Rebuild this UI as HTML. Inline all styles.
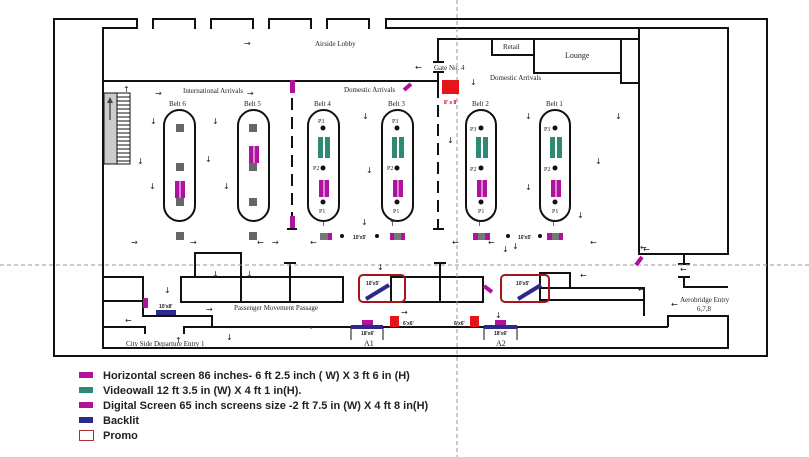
<!DOCTYPE html>
<html><head><meta charset="utf-8"><style>
html,body{margin:0;padding:0;background:#fff;}
svg{display:block;}
.w{stroke:#111;stroke-width:2;fill:none;}
.t{font-family:"Liberation Serif",serif;fill:#222;}
.lg{font-family:"Liberation Sans",sans-serif;font-weight:bold;font-size:11px;fill:#222;}
.ar{font-family:"DejaVu Sans",sans-serif;font-size:8px;fill:#222;}
</style></head><body>
<svg width="809" height="457" viewBox="0 0 809 457" xmlns="http://www.w3.org/2000/svg">
<!-- outer frame -->
<polyline class="w" points="137,29 137,19 54,19 54,356 767,356 767,19 386,19 386,29"/>
<g class="w">
<polyline points="153,29 153,19 195,19 195,29"/>
<polyline points="211,29 211,19 253,19 253,29"/>
<polyline points="269,29 269,19 311,19 311,29"/>
<polyline points="327,29 327,19 369,19 369,29"/>
</g>
<g class="w">
<polyline points="137,28 103,28 103,348 728,348 728,316 668,316 668,327"/>
<line x1="386" y1="28" x2="728" y2="28"/>
<line x1="103" y1="81" x2="438" y2="81"/>
<!-- gate wall -->
<polyline points="438,62 438,39 639,39"/>
<line x1="433" y1="62" x2="444" y2="62"/>
<line x1="433" y1="72" x2="444" y2="72"/>
<line x1="438" y1="72" x2="438" y2="86"/>
<line x1="438" y1="86" x2="438" y2="229" stroke-dasharray="12,7"/>
<line x1="433" y1="229" x2="444" y2="229"/>
<line x1="292" y1="98" x2="292" y2="229" stroke-dasharray="12,7"/>
<line x1="287" y1="229" x2="297" y2="229"/>
<!-- retail/lounge -->
<rect x="492" y="39" width="42" height="16"/>
<rect x="534" y="39" width="87" height="34"/>
<rect x="621" y="39" width="18" height="44"/>
<rect x="639" y="28" width="89" height="226"/>
<!-- belts -->
<rect x="164" y="110" width="31" height="111" rx="15.5"/>
<rect x="238" y="110" width="31" height="111" rx="15.5"/>
<rect x="308" y="110" width="31" height="111" rx="15.5"/>
<rect x="382" y="110" width="31" height="111" rx="15.5"/>
<rect x="466" y="110" width="30" height="111" rx="15"/>
<rect x="540" y="110" width="30" height="111" rx="15"/>
<!-- lower left -->
<polyline points="103,277 143,277 143,316 212,316 212,327 668,327"/>
<line x1="103" y1="301" x2="143" y2="301"/>
<polyline points="103,327 145,327 145,334"/>
<polyline points="184,334 184,327 212,327"/>
<rect x="181" y="277" width="162" height="25"/>
<polyline points="195,277 195,253 241,253 241,302"/>
<line x1="290" y1="264" x2="290" y2="302"/><line x1="284" y1="263" x2="296" y2="263"/>
<rect x="391" y="277" width="92" height="25"/>
<line x1="440" y1="264" x2="440" y2="302"/><line x1="434" y1="263" x2="446" y2="263"/>
<polyline points="540,302 540,273 570,273 570,288"/>
<polyline points="540,288 644,288 644,316"/>
<line x1="540" y1="300" x2="644" y2="300"/>
<polyline points="684,254 684,264"/><line x1="678" y1="264" x2="690" y2="264"/>
<line x1="678" y1="277" x2="690" y2="277"/><polyline points="684,277 684,287 728,287"/>
<!-- ticks at A1, A2 -->
<line x1="351" y1="327" x2="351" y2="340" stroke-width="1"/><line x1="383" y1="327" x2="383" y2="340" stroke-width="1"/>
<line x1="484" y1="327" x2="484" y2="340" stroke-width="1"/><line x1="517" y1="327" x2="517" y2="340" stroke-width="1"/>
</g>
<!-- stairs -->
<rect x="104" y="93" width="13" height="71" fill="#ccc" stroke="#111" stroke-width="1"/>
<rect x="117" y="93" width="13" height="71" fill="#fff" stroke="#111" stroke-width="1"/>
<g stroke="#111" stroke-width="1">
<line x1="117" y1="97" x2="130" y2="97"/><line x1="117" y1="101" x2="130" y2="101"/><line x1="117" y1="105" x2="130" y2="105"/><line x1="117" y1="109" x2="130" y2="109"/><line x1="117" y1="113" x2="130" y2="113"/><line x1="117" y1="117" x2="130" y2="117"/><line x1="117" y1="121" x2="130" y2="121"/><line x1="117" y1="125" x2="130" y2="125"/><line x1="117" y1="129" x2="130" y2="129"/><line x1="117" y1="133" x2="130" y2="133"/><line x1="117" y1="137" x2="130" y2="137"/><line x1="117" y1="141" x2="130" y2="141"/><line x1="117" y1="145" x2="130" y2="145"/><line x1="117" y1="149" x2="130" y2="149"/><line x1="117" y1="153" x2="130" y2="153"/><line x1="117" y1="157" x2="130" y2="157"/><line x1="117" y1="161" x2="130" y2="161"/>
<line x1="110" y1="120" x2="110" y2="100"/>
</g>
<polygon points="110,97 107,103 113,103" fill="#444"/>
<!-- dashed guides -->
<line x1="457" y1="0" x2="457" y2="457" stroke="#999" stroke-width="1" stroke-dasharray="4,3"/>
<line x1="0" y1="265" x2="809" y2="265" stroke="#999" stroke-width="1" stroke-dasharray="4,3"/>
<!-- gray squares -->
<g fill="#666">
<rect x="176" y="124" width="8" height="8"/><rect x="176" y="163" width="8" height="8"/><rect x="176" y="198" width="8" height="8"/>
<rect x="249" y="124" width="8" height="8"/><rect x="249" y="163" width="8" height="8"/><rect x="249" y="198" width="8" height="8"/>
<rect x="176" y="232" width="8" height="8"/><rect x="249" y="232" width="8" height="8"/>
</g>
<!-- magenta screens -->
<g fill="#b0129f">
<rect x="175" y="181" width="10" height="17"/><rect x="249" y="146" width="10" height="17"/>
<rect x="319" y="180" width="10" height="17"/><rect x="393" y="180" width="10" height="17"/>
<rect x="477" y="180" width="10" height="17"/><rect x="551" y="180" width="10" height="17"/>
<rect x="290" y="80" width="5" height="13"/><rect x="290" y="216" width="5" height="12"/>
<rect x="143" y="298" width="5" height="10"/>
<rect x="362" y="320" width="11" height="5"/><rect x="495" y="320" width="11" height="5"/>
<rect x="320" y="233" width="12" height="7"/><rect x="390" y="233" width="15" height="7"/>
<rect x="473" y="233" width="17" height="7"/><rect x="547" y="233" width="16" height="7"/>
</g>
<g stroke="#b0129f" stroke-width="4">
<line x1="404" y1="90" x2="411" y2="84"/><line x1="636" y1="265" x2="642" y2="257"/><line x1="484" y1="286" x2="492" y2="292"/>
</g>
<g stroke="#fff" stroke-width="1">
<line x1="180" y1="181" x2="180" y2="198"/><line x1="254" y1="146" x2="254" y2="163"/><line x1="324" y1="180" x2="324" y2="197"/><line x1="398" y1="180" x2="398" y2="197"/><line x1="482" y1="180" x2="482" y2="197"/><line x1="556" y1="180" x2="556" y2="197"/>
<line x1="324" y1="137" x2="324" y2="158"/><line x1="398" y1="137" x2="398" y2="158"/><line x1="482" y1="137" x2="482" y2="158"/><line x1="556" y1="137" x2="556" y2="158"/>
</g>
<!-- gray centers of bottom combos -->
<g fill="#777"><rect x="320" y="233" width="8" height="7"/><rect x="394" y="233" width="7" height="7"/><rect x="478" y="233" width="7" height="7"/><rect x="552" y="233" width="7" height="7"/></g>
<!-- teal -->
<g fill="#2e8b73">
<rect x="318" y="137" width="5" height="21"/><rect x="325" y="137" width="5" height="21"/>
<rect x="392" y="137" width="5" height="21"/><rect x="399" y="137" width="5" height="21"/>
<rect x="476" y="137" width="5" height="21"/><rect x="483" y="137" width="5" height="21"/>
<rect x="550" y="137" width="5" height="21"/><rect x="557" y="137" width="5" height="21"/>
</g>
<!-- dots -->
<g fill="#111">
<circle cx="323" cy="128" r="2.5"/><circle cx="323" cy="168" r="2.5"/><circle cx="323" cy="202" r="2.5"/>
<circle cx="397" cy="128" r="2.5"/><circle cx="397" cy="168" r="2.5"/><circle cx="397" cy="202" r="2.5"/>
<circle cx="481" cy="128" r="2.5"/><circle cx="481" cy="168" r="2.5"/><circle cx="481" cy="202" r="2.5"/>
<circle cx="555" cy="128" r="2.5"/><circle cx="555" cy="168" r="2.5"/><circle cx="555" cy="202" r="2.5"/>
<circle cx="342" cy="236" r="2"/><circle cx="377" cy="236" r="2"/><circle cx="508" cy="236" r="2"/><circle cx="540" cy="236" r="2"/>
</g>
<!-- red -->
<g fill="#e8141c">
<rect x="442" y="80" width="17" height="14"/>
<rect x="390" y="316" width="9" height="11"/><rect x="470" y="316" width="9" height="11"/>
</g>
<!-- backlit -->
<g fill="#2b2a8a">
<rect x="156" y="310" width="20" height="5"/>
<rect x="351" y="325" width="32" height="4"/><rect x="484" y="325" width="33" height="4"/>
</g>
<g stroke="#2b2a8a" stroke-width="4">
<line x1="366" y1="299" x2="389" y2="285"/><line x1="518" y1="299" x2="541" y2="285"/>
</g>
<!-- promo -->
<rect x="359" y="275" width="46" height="27" rx="4" fill="none" stroke="#a3161c" stroke-width="2"/>
<rect x="501" y="275" width="48" height="27" rx="4" fill="none" stroke="#a3161c" stroke-width="2"/>
<!-- labels -->
<g class="t" font-size="7">
<text x="315" y="46">Airside Lobby</text>
<text x="183" y="93">International Arrivals</text>
<text x="344" y="92">Domestic Arrivals</text>
<text x="434" y="70">Gate No. 4</text>
<text x="490" y="80">Domestic Arrivals</text>
<text x="503" y="49">Retail</text>
<text x="565" y="58" font-size="8">Lounge</text>
<text x="169" y="106">Belt 6</text><text x="244" y="106">Belt 5</text><text x="314" y="106">Belt 4</text><text x="388" y="106">Belt 3</text><text x="472" y="106">Belt 2</text><text x="546" y="106">Belt 1</text>
<text x="318" y="123" font-size="6">P3</text><text x="392" y="123" font-size="6">P3</text><text x="470" y="131" font-size="6">P3</text><text x="544" y="131" font-size="6">P3</text>
<text x="313" y="170" font-size="6">P2</text><text x="387" y="170" font-size="6">P2</text><text x="470" y="171" font-size="6">P2</text><text x="544" y="171" font-size="6">P2</text>
<text x="319" y="213" font-size="6">P1</text><text x="393" y="213" font-size="6">P1</text><text x="478" y="213" font-size="6">P1</text><text x="552" y="213" font-size="6">P1</text>
<text x="234" y="310">Passenger Movement Passage</text>
<text x="126" y="346">City Side Departure Entry 1</text>
<text x="364" y="346" font-size="8">A1</text><text x="496" y="346" font-size="8">A2</text>
<text x="680" y="302">Aerobridge Entry</text><text x="697" y="311">6,7,8</text>
</g>
<g font-family="Liberation Sans,sans-serif" font-size="5" font-weight="bold" fill="#222">
<text x="159" y="308">10'x8'</text><text x="366" y="285">10'x5'</text><text x="516" y="285">10'x5'</text>
<text x="403" y="325">6'x6'</text><text x="454" y="325">6'x6'</text>
<text x="361" y="335">18'x6'</text><text x="494" y="335">18'x6'</text>
<text x="353" y="239">10'x5'</text><text x="518" y="239">10'x5'</text>
<text x="444" y="104" fill="#c0141c">8' x 8'</text>
</g>
<!-- arrows -->
<g class="ar">
<text x="244" y="46">→</text><text x="415" y="70">←</text><text x="155" y="96">→</text><text x="247" y="96">→</text><text x="123" y="92">↑</text>
<text x="150" y="124">↓</text><text x="212" y="124">↓</text><text x="137" y="164">↓</text><text x="205" y="162">↓</text><text x="149" y="189">↓</text><text x="223" y="189">↓</text>
<text x="362" y="119">↓</text><text x="366" y="173">↓</text><text x="361" y="225">↓</text>
<text x="389" y="226">↑</text><text x="320" y="226">↑</text><text x="476" y="226">↑</text><text x="550" y="226">↑</text>
<text x="470" y="85">↓</text><text x="447" y="143">↓</text><text x="525" y="119">↓</text><text x="615" y="119">↓</text><text x="595" y="164">↓</text><text x="525" y="190">↓</text><text x="577" y="218">↓</text><text x="512" y="249">↓</text>
<text x="131" y="245">→</text><text x="190" y="245">→</text><text x="272" y="245">→</text><text x="257" y="245">←</text><text x="310" y="245">←</text><text x="452" y="245">←</text><text x="488" y="245">←</text><text x="590" y="245">←</text>
<text x="212" y="277">↓</text><text x="246" y="277">↓</text><text x="164" y="293">↓</text><text x="377" y="270">↓</text><text x="502" y="252">↓</text>
<text x="206" y="312">→</text><text x="306" y="330">→</text><text x="401" y="315">→</text><text x="125" y="323">←</text><text x="226" y="340">↓</text><text x="175" y="343">↑</text><text x="580" y="278">←</text><text x="640" y="250">←</text><text x="638" y="292">←</text><text x="680" y="272">←</text><text x="671" y="307">←</text><text x="495" y="318">↓</text><text x="643" y="252">←</text>
</g>
<!-- legend -->
<rect x="79" y="372" width="14" height="6" fill="#b0129f"/>
<rect x="79" y="387" width="14" height="6" fill="#2e8b73"/>
<rect x="79" y="402" width="14" height="6" fill="#b0129f"/>
<rect x="79" y="417" width="14" height="6" fill="#2b2a8a"/>
<rect x="79.5" y="430.5" width="14" height="10" fill="none" stroke="#b03030" stroke-width="1"/>
<text class="lg" x="103" y="379">Horizontal screen 86 inches- 6 ft 2.5 inch ( W) X 3 ft 6 in (H)</text>
<text class="lg" x="103" y="394">Videowall 12 ft 3.5 in (W) X 4 ft 1 in(H).</text>
<text class="lg" x="103" y="409">Digital Screen 65 inch screens size -2 ft 7.5 in (W) X 4 ft 8 in(H)</text>
<text class="lg" x="103" y="424">Backlit</text>
<text class="lg" x="103" y="439">Promo</text>
</svg>
</body></html>
